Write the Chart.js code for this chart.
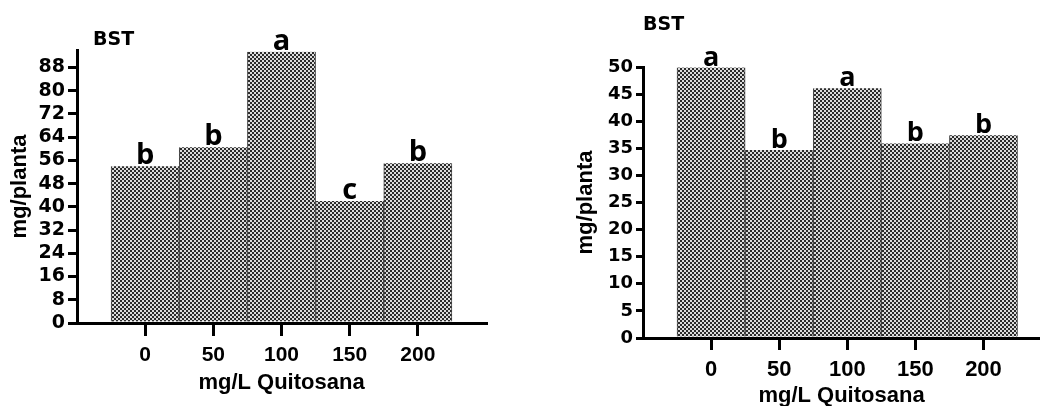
<!DOCTYPE html>
<html lang="es">
<head>
  <meta charset="UTF-8">
  <title>BST - mg/planta</title>
  <script src="https://cdn.jsdelivr.net/npm/chart.js"></script>
  <style>
    body { margin: 0; background: #fff; }
    #wrap { position: relative; width: 1040px; height: 406px; }
    canvas { position: absolute; top: 0; }
    #left { left: 0; }
    #right { left: 520px; }
  </style>
</head>
<body>
  <div id="wrap">
    <canvas id="left" width="520" height="406"></canvas>
    <canvas id="right" width="520" height="406"></canvas>
  </div>

  <script>
    // data
    const doses = ['0', '50', '100', '150', '200'];

    const leftValues = [54.0, 60.5, 93.4, 42.0, 55.0];
    const leftLetters = ['b', 'b', 'a', 'c', 'b'];
    const leftYTicks = [0, 8, 16, 24, 32, 40, 48, 56, 64, 72, 80, 88];

    const rightValues = [49.9, 34.7, 46.1, 35.9, 37.4];
    const rightLetters = ['a', 'b', 'a', 'b', 'b'];
    const rightYTicks = [0, 5, 10, 15, 20, 25, 30, 35, 40, 45, 50];

    // checkerboard fill like the original bars
    function checker(ctx) {
      const c = document.createElement('canvas');
      c.width = 4; c.height = 4;
      const g = c.getContext('2d');
      g.fillStyle = '#dcdcdc';
      g.fillRect(0, 0, 4, 4);
      g.fillStyle = '#2b2b2b';
      g.fillRect(0, 0, 2, 2);
      g.fillRect(2, 2, 2, 2);
      return ctx.createPattern(c, 'repeat');
    }

    // letters over bars + the "BST" tag
    const letterPlugin = {
      id: 'letters',
      afterDatasetsDraw(chart, args, opts) {
        const ctx = chart.ctx;
        const meta = chart.getDatasetMeta(0);
        ctx.save();
        ctx.fillStyle = '#000';
        ctx.font = opts.font;
        ctx.textAlign = 'center';
        ctx.textBaseline = 'alphabetic';
        meta.data.forEach((bar, i) => {
          ctx.fillText(opts.labels[i], bar.x, bar.y - opts.gap);
        });
        ctx.font = opts.tagFont;
        ctx.textAlign = 'left';
        ctx.textBaseline = 'middle';
        ctx.fillText(opts.tag, chart.chartArea.left + opts.tagDx, chart.chartArea.top + opts.tagDy);
        ctx.restore();
      }
    };

    function makeChart(id, cfg) {
      const ctx = document.getElementById(id).getContext('2d');
      return new Chart(ctx, {
        type: 'bar',
        data: {
          datasets: [{
            data: cfg.values.map((v, i) => ({ x: i, y: v })),
            backgroundColor: checker(ctx),
            borderColor: '#444',
            borderWidth: { left: 1, right: 1, top: 0, bottom: 0 },
            barPercentage: 1,
            categoryPercentage: 1
          }]
        },
        options: {
          responsive: false,
          animation: false,
          layout: { padding: { top: cfg.top, right: cfg.right, left: 0, bottom: 0 } },
          plugins: {
            legend: { display: false },
            tooltip: { enabled: false },
            letters: {
              labels: cfg.letters,
              font: cfg.letterFont,
              gap: 2,
              tag: 'BST',
              tagFont: 'bold 19px "DejaVu Sans"',
              tagDx: cfg.tagDx,
              tagDy: cfg.tagDy
            }
          },
          scales: {
            x: {
              type: 'linear',
              min: -1,
              max: cfg.xMax,
              offset: false,
              afterBuildTicks: s => { s.ticks = doses.map((d, i) => ({ value: i })); },
              afterFit: s => { s.height = cfg.xHeight; },
              grid: { offset: false, drawOnChartArea: false, tickLength: cfg.xTick, lineWidth: 3, tickColor: '#000' },
              border: { color: '#000', width: 3 },
              ticks: {
                autoSkip: false,
                maxRotation: 0,
                padding: cfg.xPad,
                color: '#000',
                font: { family: 'Liberation Sans', weight: 'bold', size: cfg.xFont },
                callback: v => doses[v]
              },
              title: {
                display: true,
                text: 'mg/L Quitosana',
                color: '#000',
                font: { family: 'Liberation Sans', weight: 'bold', size: 22, lineHeight: 1 },
                padding: { top: 0, bottom: cfg.xTitlePad }
              }
            },
            y: {
              min: 0,
              max: cfg.yMax,
              afterBuildTicks: s => { s.ticks = cfg.yTicks.map(v => ({ value: v })); },
              afterFit: s => { s.width = cfg.yWidth; },
              grid: { drawOnChartArea: false, tickLength: cfg.yTick, lineWidth: 3, tickColor: '#000' },
              border: { color: '#000', width: 3 },
              ticks: {
                autoSkip: false,
                padding: 3,
                color: '#000',
                font: { family: 'DejaVu Sans', weight: 'bold', size: cfg.yFont }
              },
              title: {
                display: true,
                text: 'mg/planta',
                color: '#000',
                font: { family: 'Liberation Sans', weight: 'bold', size: 22, lineHeight: 1 },
                padding: { top: cfg.yTitlePad, bottom: 0 }
              }
            }
          }
        },
        plugins: [letterPlugin]
      });
    }

    makeChart('left', {
      values: leftValues, letters: leftLetters, yTicks: leftYTicks,
      yMax: 94, xMax: 5.0,
      top: 50, right: 34, xHeight: 83, yWidth: 77,
      xTick: 13, xPad: 7, xFont: 21, xTitlePad: 12,
      yTick: 9, yFont: 19, yTitlePad: 9,
      letterFont: 'bold 29px "Open Sans"',
      tagDx: 16, tagDy: -10
    });

    makeChart('right', {
      values: rightValues, letters: rightLetters, yTicks: rightYTicks,
      yMax: 50, xMax: 4.83,
      top: 67, right: 0, xHeight: 68, yWidth: 123,
      xTick: 12, xPad: 7, xFont: 22, xTitlePad: -1,
      yTick: 7, yFont: 18, yTitlePad: 55,
      letterFont: 'bold 27px "Open Sans"',
      tagDx: 0, tagDy: -42
    });
  </script>
</body>
</html>
